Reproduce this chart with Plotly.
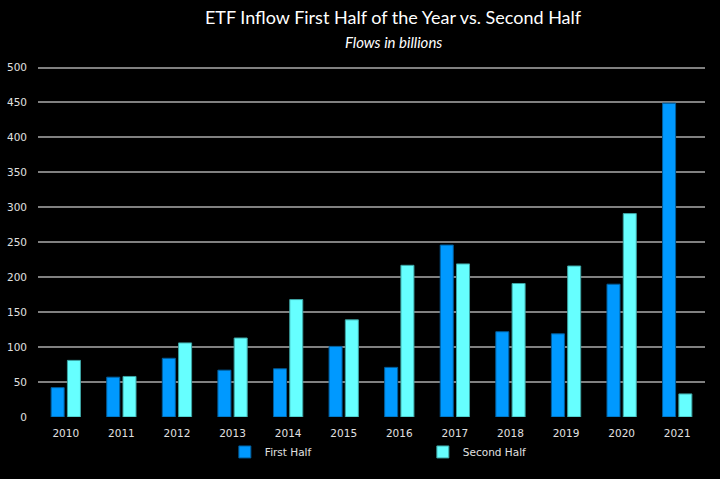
import plotly.graph_objects as go

years = ["2010", "2011", "2012", "2013", "2014", "2015", "2016", "2017", "2018", "2019", "2020", "2021"]
first_half = [42, 57, 84, 67, 69, 101, 71, 246, 122, 119, 190, 449]
second_half = [81, 58, 106, 113, 168, 139, 217, 219, 191, 216, 291, 33]
y_ticks = [0, 50, 100, 150, 200, 250, 300, 350, 400, 450, 500]

c_first = "#0099FF"
c_second = "#66FFFF"
txt = "#E0E0E0"
tick_font = dict(family="DejaVu Sans", size=10.5, color=txt)

fig = go.Figure()
fig.add_trace(go.Bar(x=years, y=first_half, name="First Half",
                     marker=dict(color=c_first, line=dict(color="#005C99", width=1))))
fig.add_trace(go.Bar(x=years, y=second_half, name="Second Half",
                     marker=dict(color=c_second, line=dict(color="#3DA3A3", width=1))))

fig.update_layout(
    width=720, height=479,
    paper_bgcolor="black", plot_bgcolor="black",
    margin=dict(l=38, r=15, t=63.5, b=62, autoexpand=False),
    barmode="group", bargap=0.414, bargroupgap=0.2,
    title=dict(text="ETF Inflow First Half of the Year vs. Second Half", x=393 / 720, xanchor="center",
               y=1 - 18 / 479, yanchor="middle", yref="container",
               font=dict(family="Lato", size=18, color="white")),
    annotations=[dict(text="<i>Flows in billions</i>", x=(393 - 38) / 667, xref="paper", xanchor="center",
                      y=(479 - 41 - 62) / 353.5, yref="paper", yanchor="middle",
                      showarrow=False, font=dict(family="Lato", size=15, color="white"))],
    legend=dict(orientation="h", x=0.577, xanchor="center", y=-35 / 353.5, yanchor="middle", font=tick_font,
                bgcolor="rgba(0,0,0,0)", itemwidth=30, entrywidth=153, entrywidthmode="pixels"),
    xaxis=dict(showgrid=False, showline=False, zeroline=False, tickfont=tick_font, ticks="",
               ticklabelstandoff=8, automargin=False),
    yaxis=dict(range=[0, 505], tickvals=y_ticks, showgrid=True, gridcolor="#808080", gridwidth=1.5,
               zeroline=False, showline=False, tickfont=tick_font, ticks="", ticklabelstandoff=10,
               automargin=False),
)

fig.write_html("out.html", config={"displayModeBar": False},
               post_script="document.body.style.margin='0';document.body.style.background='black';")
